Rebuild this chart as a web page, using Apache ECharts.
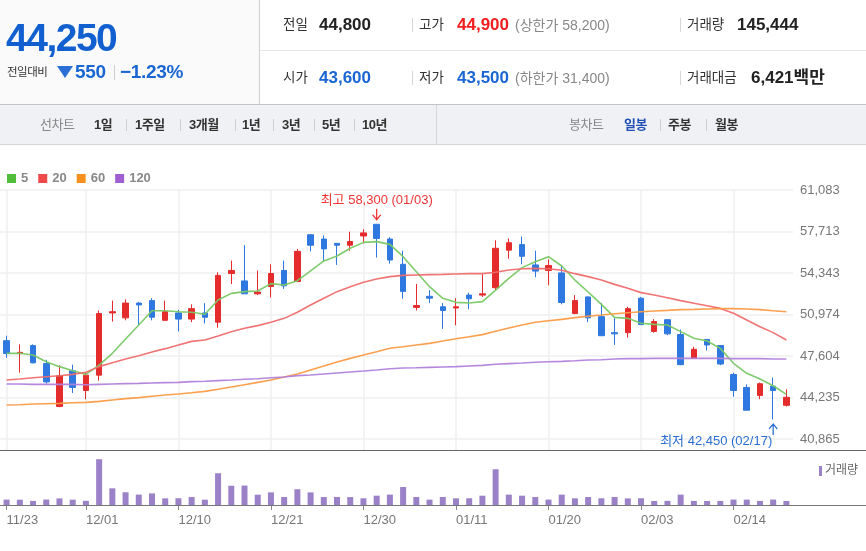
<!DOCTYPE html>
<html>
<head>
<meta charset="utf-8">
<script src="https://cdn.jsdelivr.net/npm/echarts@6/dist/echarts.min.js"></script>
<style>
html,body{margin:0;padding:0;background:#fff;}
body{width:866px;height:551px;position:relative;overflow:hidden;font-family:"Liberation Sans","Noto Sans CJK KR",sans-serif;}
#chart{position:absolute;left:0;top:0;width:866px;height:551px;}
#hdr{position:absolute;left:0;top:0;width:866px;height:145px;z-index:2;}
.a{position:absolute;white-space:nowrap;}
.box{position:absolute;}
</style>
</head>
<body>
<div id="chart"></div>
<div id="hdr">
  <div class="box" style="left:0;top:0;width:259px;height:104px;background:#fafafa;border-right:1px solid #cfcfcf;"></div>
  <div class="box" style="left:260px;top:50px;width:606px;height:1px;background:#e6e6e6;"></div>
  <div class="box" style="left:0;top:104px;width:866px;height:1px;background:#c4c4c4;"></div>
  <div class="box" style="left:0;top:105px;width:866px;height:39px;background:#f0f1f5;border-bottom:1px solid #d3d3d8;"></div>
  <div class="box" style="left:436px;top:105px;width:1px;height:39px;background:#d6d6dc;"></div>
</div>
<script>
// ---------- data ----------
const dates = ['11/23','11/24','11/25','11/26','11/29','11/30','12/01','12/02','12/03','12/06',
  '12/07','12/08','12/09','12/10','12/13','12/14','12/15','12/16','12/17','12/20',
  '12/21','12/22','12/23','12/24','12/27','12/28','12/29','12/30','01/03','01/04',
  '01/05','01/06','01/07','01/10','01/11','01/12','01/13','01/14','01/17','01/18',
  '01/19','01/20','01/21','01/24','01/25','01/26','01/27','01/28','02/03','02/04',
  '02/07','02/08','02/09','02/10','02/11','02/14','02/15','02/16','02/17','02/18'];
const xTickLabels = ['11/23','12/01','12/10','12/21','12/30','01/11','01/20','02/03','02/14'];
const opens = [48850,47800,48450,47000,43500,46400,44800,46050,51100,50700,
  51900,52100,50500,51100,50600,51100,50350,54300,53700,52650,
  53250,54550,53650,57450,57100,56750,56600,57350,58300,57100,
  55050,51550,52450,51600,51500,52550,52550,53150,56200,56650,
  55000,54550,54350,51050,52400,50800,49500,49500,52300,49600,
  50550,49350,47400,48950,48450,46100,45050,44400,45150,43600];
const highs = [49250,48550,48550,47300,46850,46900,46250,51300,52100,52200,
  52000,52300,52100,51350,51800,51900,54400,55350,56600,54550,
  55050,55350,56300,57500,57400,56750,57700,57900,58300,57250,
  56150,53450,52950,51900,52300,52750,54250,57000,57150,57300,
  56150,55450,55000,52550,52450,51900,50700,51600,52400,50600,
  50600,49750,48350,48950,48500,46250,45300,45450,45850,44900];
const lows = [47450,46250,47000,45350,43450,44600,44100,45600,50400,50500,
  50100,50500,50500,49600,50350,50250,49900,53450,52650,52550,
  52350,53050,53600,56100,55300,55000,56150,56750,55600,55100,
  52250,51300,51900,49800,50100,51400,52400,52950,55500,55050,
  54000,53350,51800,51000,50350,49250,48500,49100,50150,49500,
  49300,46850,47400,48050,46850,44300,43200,44100,42450,43500];
const closes = [47800,47900,47050,45500,46000,45050,46050,51050,51200,51900,
  51750,50750,51200,50600,51450,50750,54150,54550,52650,52800,
  54300,53300,56100,56600,56300,56600,56900,57600,57150,55400,
  52850,51700,52300,51300,51600,52250,52650,56350,56800,55700,
  54500,54950,51950,52100,50700,49250,49400,51450,50150,50400,
  49400,46900,48150,48500,46950,44800,43200,45350,44800,44250];
const volumes = [195120,190870,148320,197650,238410,193200,151780,1658300,604120,461930,
  377540,421880,241360,244910,287630,192480,1151720,698450,703960,374210,
  458630,289150,571280,457310,288420,291870,286940,243280,338160,376420,
  652870,291360,194280,289570,240830,243510,337260,1296480,374810,336950,
  288740,196320,376150,241980,289310,243160,291740,240280,243890,146720,
  149380,375640,148150,145920,147830,196540,194170,148960,197330,145444];
const ma5 = [47820,47820,47680,47140,46740,46410,46110,46870,47820,48980,
  50120,51280,51280,51200,51150,50990,52150,52690,52830,52880,
  53480,53370,53720,54510,55320,55720,56350,56830,56890,56670,
  55670,54450,53230,52290,51960,51910,52020,52960,53910,54780,
  55260,55670,54910,53770,52800,51800,50740,50660,50260,50170,
  50120,49580,49040,48820,48220,47010,46200,45730,45190,44490];
const ma20 = [45650,45730,45840,45920,46000,46110,46280,46740,47060,47360,
  47630,47930,48200,48500,48790,48900,49230,49580,49850,50070,
  50340,50660,51150,51740,52290,52830,53230,53590,53860,54050,
  54150,54180,54210,54230,54260,54290,54290,54400,54590,54690,
  54720,54690,54560,54290,54050,53770,53420,53100,52750,52560,
  52340,52100,51880,51690,51470,51070,50530,49980,49500,48900];
const ma60 = [43620,43650,43700,43730,43760,43810,43840,43920,44030,44140,
  44220,44330,44440,44520,44620,44730,44900,45080,45270,45460,
  45650,45900,46140,46470,46790,47120,47410,47680,47950,48230,
  48360,48500,48630,48820,49010,49170,49340,49610,49880,50120,
  50340,50470,50580,50720,50830,50930,51040,51120,51200,51260,
  51310,51370,51390,51420,51450,51450,51420,51370,51280,51200];
const ma120 = [45330,45330,45300,45300,45300,45300,45270,45300,45330,45360,
  45380,45410,45440,45460,45520,45550,45600,45650,45710,45760,
  45840,45900,46010,46060,46140,46220,46300,46380,46470,46570,
  46630,46650,46680,46710,46740,46790,46840,46930,46980,47030,
  47090,47140,47170,47220,47280,47300,47360,47390,47390,47410,
  47410,47410,47410,47410,47410,47390,47390,47390,47360,47360];
const yTickValues = [40865,44235,47604,50974,54343,57713,61083];
const maNames = ['5','20','60','120'];
const limitPrices = [58200, 31400];   // 상한가, 하한가
const tradeAmountMillion = 6421;

// ---------- helpers ----------
const fmt = v => Math.abs(v).toLocaleString('en-US');
const FONT = "'Liberation Sans','Noto Sans CJK KR',sans-serif";
const RED = '#e42c2c', BLUE = '#2f78df';

// ---------- header ----------
const H = document.getElementById('hdr');
function put(txt, left, cy, fs, color, weight, extra) {
  const s = document.createElement('div');
  s.className = 'a';
  s.textContent = txt;
  s.style.cssText += `left:${left}px;top:${cy - 20}px;line-height:40px;font-size:${fs}px;color:${color};font-weight:${weight || 'normal'};` + (extra || '');
  H.appendChild(s);
  return s;
}
function vbar(left, cy, h, color) {
  const d = document.createElement('div');
  d.className = 'box';
  d.style.cssText = `left:${left}px;top:${cy - h / 2}px;width:1px;height:${h}px;background:${color};`;
  H.appendChild(d);
}
const n = closes.length;
const last = closes[n - 1], prev = closes[n - 2];
const diff = last - prev;
const pct = (diff / prev * 100).toFixed(2);
put(fmt(last), 6, 38, 39, '#1260cf', 'bold', 'letter-spacing:-1.5px;');
put('전일대비', 7, 72, 11.5, '#333', 'normal', 'letter-spacing:-0.5px;');
const tri = document.createElement('div');
tri.className = 'box';
tri.style.cssText = 'left:57px;top:66px;width:0;height:0;border-left:8px solid transparent;border-right:8px solid transparent;border-top:12px solid #2b6fd6;';
H.appendChild(tri);
put(fmt(diff), 75, 72, 19, '#1a66d2', 'bold', 'letter-spacing:-0.3px;');
vbar(114, 72, 15, '#cfcfcf');
put('\u2212' + Math.abs(pct) + '%', 120, 72, 19, '#1a66d2', 'bold', 'letter-spacing:-0.3px;');

const r1 = 25, r2 = 78;
put('전일', 283, r1, 13.5, '#333');
put(fmt(prev), 319, r1, 17, '#222', 'bold');
vbar(412, r1, 14, '#d6d6d6');
put('고가', 419, r1, 13.5, '#333');
put(fmt(highs[n - 1]), 457, r1, 17, '#f21d1d', 'bold');
put('(상한가 ' + fmt(limitPrices[0]) + ')', 515, r1, 14, '#888');
vbar(680, r1, 14, '#d6d6d6');
put('거래량', 687, r1, 13.5, '#333');
put(fmt(volumes[n - 1]), 737, r1, 17, '#222', 'bold');

put('시가', 283, r2, 13.5, '#333');
put(fmt(opens[n - 1]), 319, r2, 17, '#1a66d2', 'bold');
vbar(412, r2, 14, '#d6d6d6');
put('저가', 419, r2, 13.5, '#333');
put(fmt(lows[n - 1]), 457, r2, 17, '#1a66d2', 'bold');
put('(하한가 ' + fmt(limitPrices[1]) + ')', 515, r2, 14, '#888');
vbar(680, r2, 14, '#d6d6d6');
put('거래대금', 687, r2, 13.5, '#333');
put(fmt(tradeAmountMillion) + '백만', 751, r2, 17, '#222', 'bold');

// toolbar
const tb = 125;
put('선차트', 40, tb, 13, '#888', 'normal', 'letter-spacing:-0.5px;');
const lineItems = [['1일', 94], ['1주일', 135], ['3개월', 189], ['1년', 242], ['3년', 282], ['5년', 322], ['10년', 362]];
lineItems.forEach(([t, x]) => put(t, x, tb, 13, '#333', 'bold', 'letter-spacing:-0.5px;'));
[126, 180, 235, 273, 314, 354].forEach(x => vbar(x, tb, 12, '#cdcdd2'));
put('봉차트', 569, tb, 13, '#888', 'normal', 'letter-spacing:-0.5px;');
put('일봉', 624, tb, 13, '#1f4fb5', 'bold', 'letter-spacing:-0.5px;');
put('주봉', 668, tb, 13, '#333', 'bold', 'letter-spacing:-0.5px;');
put('월봉', 715, tb, 13, '#333', 'bold', 'letter-spacing:-0.5px;');
[660, 706].forEach(x => vbar(x, tb, 12, '#cdcdd2'));

// ---------- chart ----------
let hiIdx = 0, loIdx = 0;
highs.forEach((v, i) => { if (v > highs[hiIdx]) hiIdx = i; });
lows.forEach((v, i) => { if (v < lows[loIdx]) loIdx = i; });
const HI_C = '#ef3434', LO_C = '#2b6fd2';
const arrowDown = 'path://M4.3,0 L5.7,0 L5.7,8.2 L9.1,4.8 L10,5.7 L5,10.7 L0,5.7 L0.9,4.8 L4.3,8.2 Z';
const isTick = (idx, val) => xTickLabels.indexOf(val) >= 0;

const maColors = ['#78c864', '#ef6d6d', '#fb9b45', '#b182dc'];
const legendColors = ['#52bd3a', '#ee4848', '#f8901f', '#9f5fd2'];
const maData = [ma5, ma20, ma60, ma120];

const chart = echarts.init(document.getElementById('chart'), null, {renderer: 'canvas'});
chart.setOption({
  animation: false,
  backgroundColor: '#fff',
  textStyle: {fontFamily: FONT},
  legend: [{
    data: maNames.map((nm, i) => ({name: nm, itemStyle: {color: legendColors[i]}})),
    left: 2, top: 167, icon: 'rect', itemWidth: 9, itemHeight: 9, itemGap: 10,
    selectedMode: false,
    textStyle: {color: '#888', fontWeight: 'bold', fontSize: 13, fontFamily: FONT}
  }, {
    data: [{name: '거래량', itemStyle: {color: '#9b82c8'}}],
    left: 814, top: 460, icon: 'rect', itemWidth: 3, itemHeight: 10,
    selectedMode: false,
    textStyle: {color: '#666', fontSize: 12, fontFamily: FONT, padding: [0, 0, 0, -2]}
  }],
  grid: [
    {left: 0, right: 73, top: 190, height: 260},
    {left: 0, right: 73, top: 451, height: 54}
  ],
  xAxis: [{
    type: 'category', gridIndex: 0, data: dates, boundaryGap: true,
    axisLine: {show: false}, axisTick: {show: false, alignWithLabel: true, interval: isTick},
    axisLabel: {show: false, interval: isTick},
    splitLine: {show: true, interval: isTick, alignWithLabel: true, lineStyle: {color: '#efefef', width: 1.5}}
  }, {
    type: 'category', gridIndex: 1, data: dates, boundaryGap: true,
    axisLine: {show: false},
    axisTick: {show: true, alignWithLabel: true, interval: isTick, length: 5, lineStyle: {color: '#888'}},
    axisLabel: {interval: isTick, align: 'left', margin: 9, color: '#777', fontSize: 13, fontFamily: FONT},
    splitLine: {show: false}
  }],
  yAxis: [{
    type: 'value', gridIndex: 0, position: 'right', min: 39970, max: 61083, scale: true,
    axisLine: {show: false},
    axisTick: {show: false, customValues: yTickValues},
    axisLabel: {customValues: yTickValues, margin: 7, color: '#777', fontSize: 13, fontFamily: FONT,
      formatter: v => fmt(v)},
    splitLine: {show: true, lineStyle: {color: '#efefef', width: 1.5}}
  }, {
    type: 'value', gridIndex: 1, min: 0, max: v => v.max * 1.18,
    axisLine: {show: false}, axisTick: {show: false}, axisLabel: {show: false}, splitLine: {show: false}
  }],
  graphic: [
    {type: 'line', shape: {x1: 0, y1: 450.5, x2: 866, y2: 450.5}, style: {stroke: '#666', lineWidth: 1}, z: 100},
    {type: 'line', shape: {x1: 0, y1: 505.5, x2: 866, y2: 505.5}, style: {stroke: '#777', lineWidth: 1}, z: 100}
  ],
  series: [{
    type: 'candlestick', name: '시세', xAxisIndex: 0, yAxisIndex: 0,
    data: dates.map((d, i) => [opens[i], closes[i], lows[i], highs[i]]),
    barWidth: 6,
    itemStyle: {color: RED, color0: BLUE, borderColor: RED, borderColor0: BLUE, borderWidth: 1},
    markPoint: {
      silent: true,
      data: [
        {coord: [dates[hiIdx], highs[hiIdx]], symbol: arrowDown, symbolSize: [9, 12], symbolOffset: [0, -9.5],
          itemStyle: {color: HI_C}, label: {show: false}},
        {coord: [dates[hiIdx], highs[hiIdx]], symbol: 'rect', symbolSize: [1, 1], symbolOffset: [0, -23.5],
          itemStyle: {color: 'rgba(0,0,0,0)'},
          label: {show: true, position: 'inside', color: HI_C, fontSize: 13, fontFamily: FONT,
            formatter: '최고 ' + fmt(highs[hiIdx]) + ' (' + dates[hiIdx] + ')'}},
        {coord: [dates[loIdx], lows[loIdx]], symbol: arrowDown, symbolRotate: 180, symbolSize: [9, 12], symbolOffset: [0, 9.5],
          itemStyle: {color: LO_C}, label: {show: false}},
        {coord: [dates[loIdx], lows[loIdx]], symbol: 'rect', symbolSize: [1, 1], symbolOffset: [-57, 22],
          itemStyle: {color: 'rgba(0,0,0,0)'},
          label: {show: true, position: 'inside', color: LO_C, fontSize: 13, fontFamily: FONT,
            formatter: '최저 ' + fmt(lows[loIdx]) + ' (' + dates[loIdx] + ')'}}
      ]
    }
  }].concat(maNames.map((nm, k) => ({
    type: 'line', name: nm, xAxisIndex: 0, yAxisIndex: 0, data: maData[k],
    showSymbol: false, symbol: 'none', smooth: false, z: 3,
    itemStyle: {color: maColors[k]},
    lineStyle: {color: maColors[k], width: 1.6, opacity: 0.95}
  }))).concat([{
    type: 'bar', name: '거래량', xAxisIndex: 1, yAxisIndex: 1, data: volumes,
    barWidth: 6, itemStyle: {color: '#9b82c8'}
  }])
});
</script>
</body>
</html>
